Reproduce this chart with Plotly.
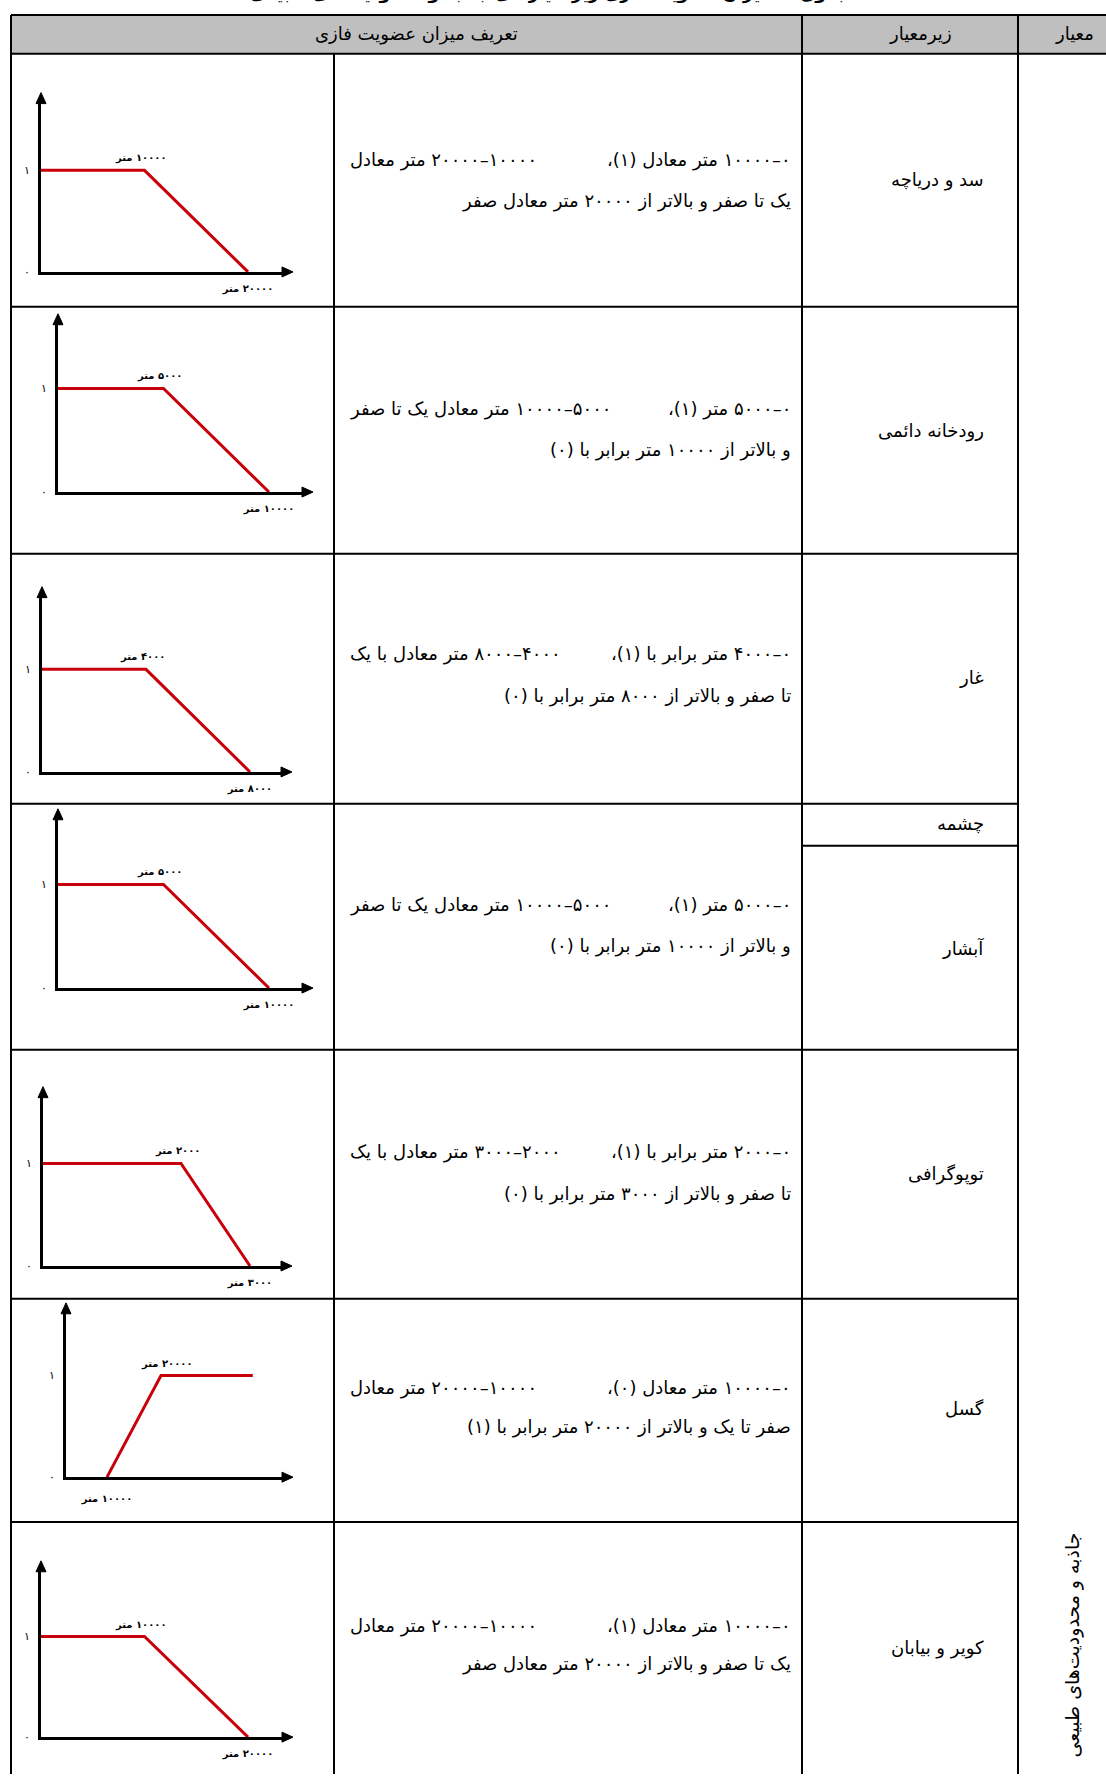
import plotly.graph_objects as go

W, H = 1106, 1776
FONT = "DejaVu Sans"

# ---------------- data ----------------
header_titles = ["تعریف میزان عضویت فازی", "زیرمعیار", "معیار"]
criterion = "جاذبه و محدودیت‌های طبیعی"
caption = "جدول ۲- میزان عضویت فازی زیرمعیارهای جاذبه و محدودیت‌های طبیعی"

subcriteria = ["سد و دریاچه", "رودخانه دائمی", "غار", "چشمه", "آبشار",
               "توپوگرافی", "گسل", "کویر و بیابان"]

desc_line1 = [
    "۰–۱۰۰۰۰ متر معادل (۱)، ۱۰۰۰۰–۲۰۰۰۰ متر معادل",
    "۰–۵۰۰۰ متر (۱)، ۵۰۰۰–۱۰۰۰۰ متر معادل یک تا صفر",
    "۰–۴۰۰۰ متر برابر با (۱)، ۴۰۰۰–۸۰۰۰ متر معادل با یک",
    "۰–۵۰۰۰ متر (۱)، ۵۰۰۰–۱۰۰۰۰ متر معادل یک تا صفر",
    "۰–۲۰۰۰ متر برابر با (۱)، ۲۰۰۰–۳۰۰۰ متر معادل با یک",
    "۰–۱۰۰۰۰ متر معادل (۰)، ۱۰۰۰۰–۲۰۰۰۰ متر معادل",
    "۰–۱۰۰۰۰ متر معادل (۱)، ۱۰۰۰۰–۲۰۰۰۰ متر معادل",
]
desc_line2 = [
    "یک تا صفر و بالاتر از ۲۰۰۰۰ متر معادل صفر",
    "و بالاتر از ۱۰۰۰۰ متر برابر با (۰)",
    "تا صفر و بالاتر از ۸۰۰۰ متر برابر با (۰)",
    "و بالاتر از ۱۰۰۰۰ متر برابر با (۰)",
    "تا صفر و بالاتر از ۳۰۰۰ متر برابر با (۰)",
    "صفر تا یک و بالاتر از ۲۰۰۰۰ متر برابر با (۱)",
    "یک تا صفر و بالاتر از ۲۰۰۰۰ متر معادل صفر",
]

# membership functions (distance in metres, membership degree)
dam_x = [0, 10000, 20000];   dam_mu = [1, 1, 0]
river_x = [0, 5000, 10000];  river_mu = [1, 1, 0]
cave_x = [0, 4000, 8000];    cave_mu = [1, 1, 0]
fall_x = [0, 5000, 10000];   fall_mu = [1, 1, 0]
topo_x = [0, 2000, 3000];    topo_mu = [1, 1, 0]
fault_x = [10000, 20000, 37000]; fault_mu = [0, 1, 1]
desert_x = [0, 10000, 20000];    desert_mu = [1, 1, 0]

y_tick_vals = [0, 1]
y_tick_text = ["۰", "۱"]

# ---------------- layout geometry (pixels) ----------------
X_L, X_TXT, X_SUB, X_CRIT = 11, 334, 802, 1018
Y_HEAD0, Y_HEAD1 = 15, 54
row_bounds = [54, 308, 556, 807, 1054, 1304, 1528]
spring_bottom = 849
text_rows_y = [(161, 202), (411, 452), (657, 699), (909, 950), (1157, 1199), (1393, 1433), (1632, 1671)]
sub_y = [181, 433, 680, 827, 952, 1179, 1414, 1655]

charts_geo = [
    dict(ox=41, oy=273, tx=293, ty=93, y1=171, ref=((0, 41), (2, 248))),
    dict(ox=58, oy=494, tx=313, ty=315, y1=390, ref=((0, 58), (2, 269))),
    dict(ox=42, oy=775, tx=292, ty=589, y1=672, ref=((0, 42), (2, 250))),
    dict(ox=58, oy=992, tx=313, ty=812, y1=888, ref=((0, 58), (2, 269))),
    dict(ox=43, oy=1271, tx=292, ty=1091, y1=1168, ref=((0, 43), (2, 250))),
    dict(ox=66, oy=1483, tx=293, ty=1308, y1=1381, ref=((0, 107), (1, 161))),
    dict(ox=41, oy=1744, tx=293, ty=1567, y1=1643, ref=((0, 41), (2, 248))),
]
chart_data = [(dam_x, dam_mu), (river_x, river_mu), (cave_x, cave_mu), (fall_x, fall_mu),
              (topo_x, topo_mu), (fault_x, fault_mu), (desert_x, desert_mu)]

PERS = str.maketrans("0123456789", "۰۱۲۳۴۵۶۷۸۹")


def fa(n):
    return str(n).translate(PERS)


def rtl(s):
    return "\u202b" + s + "\u202c"


def bold_rtl(s):
    return "<b>" + rtl(s) + "</b>"


def px(x):
    return x / W


def py(y):
    return 1 - y / H


fig = go.Figure()
annotations = []
shapes = []


def text(x, y, s, size=18, xanchor="center", angle=None):
    ann = dict(x=px(x), y=py(y), xref="paper", yref="paper", text=rtl(s),
               xanchor=xanchor, yanchor="middle", showarrow=False,
               font=dict(family=FONT, size=size, color="black"))
    if angle is not None:
        ann["textangle"] = angle
    annotations.append(ann)


# ---------------- table ----------------
shapes.append(dict(type="rect", xref="paper", yref="paper", x0=px(X_L), x1=px(W + 5),
                   y0=py(Y_HEAD0), y1=py(Y_HEAD1), fillcolor="#BFBFBF", line=dict(width=0), layer="below"))


def hline(y, x0, x1, w=2):
    shapes.append(dict(type="line", xref="paper", yref="paper", x0=px(x0), x1=px(x1),
                       y0=py(y), y1=py(y), line=dict(color="black", width=w)))


def vline(x, y0, y1, w=2):
    shapes.append(dict(type="line", xref="paper", yref="paper", x0=px(x), x1=px(x),
                       y0=py(y0), y1=py(y1), line=dict(color="black", width=w)))


hline(Y_HEAD0, X_L, W + 5)
hline(Y_HEAD1, X_L, W + 5)
for yb in row_bounds[1:]:
    hline(yb, X_L, X_CRIT)
hline(spring_bottom, X_SUB, X_CRIT)
vline(X_L, Y_HEAD0, H + 5)
vline(X_TXT, Y_HEAD1, H + 5)
vline(X_SUB, Y_HEAD0, H + 5)
vline(X_CRIT, Y_HEAD0, H + 5)

# header texts
text(416, 34, header_titles[0])
text(920, 34, header_titles[1])
text(1096, 34, header_titles[2], xanchor="right")

# caption (cut by top of page, as in the source)
annotations.append(dict(x=px(850), y=py(6), xref="paper", yref="paper", text=bold_rtl(caption),
                        xanchor="right", yanchor="bottom", showarrow=False,
                        font=dict(family=FONT, size=17, color="black")))

# subcriteria
for name, yy in zip(subcriteria, sub_y):
    text(986, yy, name, xanchor="right")

# criterion (vertical)
text(1072, 1652, criterion, size=19, angle=-90)

# descriptions
for l1, l2, (y1, y2) in zip(desc_line1, desc_line2, text_rows_y):
    right_part, left_part = l1.split("، ", 1)
    text(793, y1, right_part + "،", xanchor="right")
    text(348, y1, left_part, xanchor="left")
    text(793, y2, l2, xanchor="right")

# ---------------- membership charts ----------------
HEAD_LEN, HEAD_HALF = 11, 5
layout_axes = {}
for i, (geo, (xs, mus)) in enumerate(zip(charts_geo, chart_data)):
    k = i + 2
    ox, oy, tx, ty = geo["ox"], geo["oy"], geo["tx"], geo["ty"]
    x_end = tx - 6
    y_end = ty + 6
    (ia, pa), (ib, pb) = geo["ref"]
    va, vb = xs[ia], xs[ib]
    scale = (vb - va) / (pb - pa)
    xmin = va - (pa - ox) * scale
    xmax = va + (x_end - pa) * scale
    ymax = (oy - y_end) / (oy - geo["y1"])

    fig.add_trace(go.Scatter(x=xs, y=mus, mode="lines", line=dict(color="#C8000A", width=3),
                             xaxis=f"x{k}", yaxis=f"y{k}", cliponaxis=False,
                             showlegend=False, hoverinfo="skip"))

    increasing = mus[0] < mus[-1]
    tick_v = xs[0] if increasing else xs[2]
    knee_v = xs[1]

    layout_axes[f"xaxis{k}"] = dict(domain=[px(ox), px(x_end)], anchor=f"y{k}",
                                    range=[xmin, xmax], showline=True, linecolor="black", linewidth=3,
                                    showgrid=False, zeroline=False, ticks="",
                                    tickvals=[tick_v], ticktext=[bold_rtl(fa(tick_v) + " متر")],
                                    tickfont=dict(family=FONT, size=10, color="black"),
                                    ticklabelstandoff=10 if increasing else 5, fixedrange=True)
    layout_axes[f"yaxis{k}"] = dict(domain=[py(oy), py(y_end)], anchor=f"x{k}",
                                    range=[0, ymax], showline=True, linecolor="black", linewidth=3,
                                    showgrid=False, zeroline=False, ticks="",
                                    tickvals=y_tick_vals, ticktext=y_tick_text,
                                    tickfont=dict(family=FONT, size=11, color="black"),
                                    ticklabelstandoff=6, fixedrange=True)
    annotations.append(dict(x=knee_v, y=1, xref=f"x{k}", yref=f"y{k}",
                            text=bold_rtl(fa(knee_v) + " متر"),
                            xanchor="center", yanchor="bottom", yshift=4, xshift=6 if increasing else -4,
                            showarrow=False, font=dict(family=FONT, size=10, color="black")))
    # arrowheads (filled triangles)
    shapes.append(dict(type="path", xref="paper", yref="paper",
                       path=f"M {px(tx)},{py(oy)} L {px(tx - HEAD_LEN)},{py(oy - HEAD_HALF)} "
                            f"L {px(tx - HEAD_LEN)},{py(oy + HEAD_HALF)} Z",
                       fillcolor="black", line=dict(color="black", width=1)))
    shapes.append(dict(type="path", xref="paper", yref="paper",
                       path=f"M {px(ox)},{py(ty)} L {px(ox - HEAD_HALF)},{py(ty + HEAD_LEN)} "
                            f"L {px(ox + HEAD_HALF)},{py(ty + HEAD_LEN)} Z",
                       fillcolor="black", line=dict(color="black", width=1)))

fig.update_layout(width=W, height=H, margin=dict(l=0, r=0, t=0, b=0),
                  paper_bgcolor="white", plot_bgcolor="rgba(0,0,0,0)",
                  shapes=shapes, annotations=annotations, showlegend=False, **layout_axes)

fig.write_html("out.html", config={"displayModeBar": False},
               post_script="document.body.style.margin='0';document.body.style.overflow='hidden';")
